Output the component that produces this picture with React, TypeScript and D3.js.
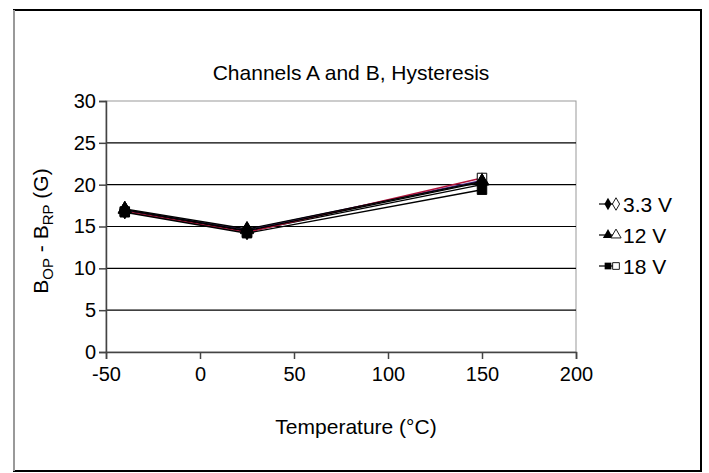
import React, { useEffect, useRef } from "react";
import * as d3 from "d3";

// temperatures (°C)
const temps = [-40, 25, 150];

// B_OP - B_RP (G), channel A = filled markers, channel B = open markers
const v33A = [17.0, 14.5, 20.3];
const v33B = [16.9, 14.4, 20.0];
const v12A = [17.1, 14.7, 20.4];
const v12B = [17.0, 14.6, 20.5];
const v18A = [16.7, 14.2, 19.4];
const v18B = [16.8, 14.3, 20.8];

const xTicks = [-50, 0, 50, 100, 150, 200];
const yTicks = [0, 5, 10, 15, 20, 25, 30];
const legendLabels = ["3.3 V", "12 V", "18 V"];

interface Series {
  values: number[];
  symbol: d3.SymbolType;
  filled: boolean;
  color: string;
}

const series: Series[] = [
  { values: v33B, symbol: d3.symbolDiamond, filled: false, color: "#000" },
  { values: v12B, symbol: d3.symbolTriangle, filled: false, color: "#4b2a8c" },
  { values: v18B, symbol: d3.symbolSquare, filled: false, color: "#b0123a" },
  { values: v33A, symbol: d3.symbolDiamond, filled: true, color: "#000" },
  { values: v12A, symbol: d3.symbolTriangle, filled: true, color: "#000" },
  { values: v18A, symbol: d3.symbolSquare, filled: true, color: "#000" },
];

const W = 709;
const H = 473;
const margin = { top: 101, right: 133, bottom: 121, left: 106 };
const FONT = "'Liberation Sans', Arial, sans-serif";

const App: React.FC = () => {
  const gRef = useRef<SVGGElement>(null);

  const x = d3.scaleLinear().domain([-50, 200]).range([margin.left, W - margin.right]);
  const y = d3.scaleLinear().domain([0, 30]).range([H - margin.bottom, margin.top]);

  useEffect(() => {
    const g = d3.select(gRef.current);
    g.selectAll("*").remove();

    // plot frame + grid
    g.append("rect")
      .attr("x", x(-50))
      .attr("y", y(30))
      .attr("width", x(200) - x(-50))
      .attr("height", y(0) - y(30))
      .attr("fill", "none")
      .attr("stroke", "#999")
      .attr("stroke-width", 1);

    g.selectAll(".grid")
      .data(yTicks.filter((t) => t > 0 && t < 30))
      .join("line")
      .attr("class", "grid")
      .attr("x1", x(-50))
      .attr("x2", x(200))
      .attr("y1", (d) => y(d))
      .attr("y2", (d) => y(d))
      .attr("stroke", "#000")
      .attr("stroke-width", 1.2);

    const xAxis = g.append("g")
      .attr("transform", `translate(0,${y(0)})`)
      .call(d3.axisBottom(x).tickValues(xTicks).tickSize(7).tickPadding(8).tickFormat((d) => String(d)));
    const yAxis = g.append("g")
      .attr("transform", `translate(${x(-50)},0)`)
      .call(d3.axisLeft(y).tickValues(yTicks).tickSize(7).tickPadding(3).tickFormat((d) => String(d)));

    [xAxis, yAxis].forEach((a) => {
      a.select(".domain").attr("stroke", "#444").attr("stroke-width", 1.5);
      a.selectAll(".tick line").attr("stroke", "#444").attr("stroke-width", 1.5);
      a.selectAll(".tick text")
        .attr("fill", "#000")
        .style("font-family", FONT)
        .style("font-size", "20px");
    });

    // lines
    const line = d3.line<number>()
      .x((_, i) => x(temps[i]))
      .y((d) => y(d));

    g.selectAll(".series")
      .data(series)
      .join("path")
      .attr("class", "series")
      .attr("d", (s) => line(s.values))
      .attr("fill", "none")
      .attr("stroke", (s) => s.color)
      .attr("stroke-width", 1.4);

    // markers (open first, filled on top)
    series.forEach((s) => {
      const size = s.symbol === d3.symbolTriangle ? 75 : s.symbol === d3.symbolDiamond ? 80 : 90;
      const sym = d3.symbol().type(s.symbol).size(size);
      g.selectAll(null)
        .data(s.values)
        .join("path")
        .attr("transform", (d, i) => `translate(${x(temps[i])},${y(d)})`)
        .attr("d", sym())
        .attr("fill", s.filled ? "#000" : "#fff")
        .attr("stroke", "#000")
        .attr("stroke-width", 1);
    });

    // legend
    const legend = g.append("g");
    const symbols = [d3.symbolDiamond, d3.symbolTriangle, d3.symbolSquare];
    legendLabels.forEach((lbl, i) => {
      const ly = 204 + i * 31;
      const item = legend.append("g").attr("transform", `translate(0,${ly})`);
      item.append("line")
        .attr("x1", 599).attr("x2", 613)
        .attr("stroke", "#000").attr("stroke-width", 1.2);
      item.append("path")
        .attr("transform", "translate(608,0)")
        .attr("d", d3.symbol().type(symbols[i]).size(45)())
        .attr("fill", "#000");
      item.append("path")
        .attr("transform", "translate(616,0)")
        .attr("d", d3.symbol().type(symbols[i]).size(45)())
        .attr("fill", "#fff")
        .attr("stroke", "#000")
        .attr("stroke-width", 0.9);
      item.append("text")
        .attr("x", 623)
        .attr("dy", "0.36em")
        .style("font-family", FONT)
        .style("font-size", "21px")
        .text(lbl);
    });
  }, []);

  return (
    <svg width={W} height={H} style={{ position: "absolute", left: 0, top: 0, background: "#fff" }}>
      <rect x={14} y={10} width={687} height={461} fill="#fff" stroke="#000" strokeWidth={2} />
      <line x1={14} y1={10} x2={14} y2={471} stroke="#999" strokeWidth={2} />
      <text
        x={351}
        y={73}
        textAnchor="middle"
        dy="0.35em"
        style={{ fontFamily: FONT, fontSize: 21 }}
      >
        Channels A and B, Hysteresis
      </text>
      <text
        x={356}
        y={427}
        textAnchor="middle"
        dy="0.35em"
        style={{ fontFamily: FONT, fontSize: 21 }}
      >
        Temperature (°C)
      </text>
      <text
        transform={`translate(41,231) rotate(-90)`}
        textAnchor="middle"
        dy="0.35em"
        style={{ fontFamily: FONT, fontSize: 21 }}
      >
        B<tspan fontSize={15} dy={5}>OP</tspan>
        <tspan dy={-5}> - B</tspan>
        <tspan fontSize={15} dy={5}>RP</tspan>
        <tspan dy={-5}> (G)</tspan>
      </text>
      <g ref={gRef} />
    </svg>
  );
};

export default App;
